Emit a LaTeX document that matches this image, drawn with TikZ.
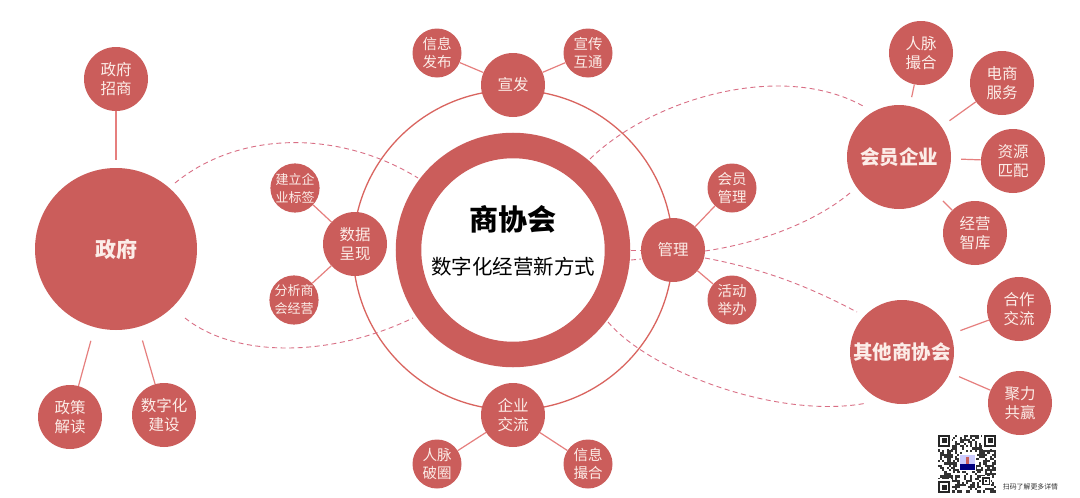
\documentclass[tikz,border=0pt]{standalone}
\usepackage{fontspec}
\setmainfont{Noto Sans CJK SC}
\usetikzlibrary{calc}
\definecolor{brick}{HTML}{CB5D5B}
\definecolor{ringline}{HTML}{D9645F}
\definecolor{spoke}{HTML}{E67F7E}
\definecolor{dashpink}{HTML}{D96F85}
\definecolor{labelcol}{HTML}{FCEDE8}
\tikzset{
  x=1pt,y=-1pt,
  ball/.style={circle,fill=brick,inner sep=0pt,align=center,text=labelcol},
  leafball/.style={ball,minimum size=49pt,font=\fontsize{14.5}{18}\selectfont},
  tinyball/.style={ball,minimum size=49pt,font=\fontsize{13}{18}\selectfont},
  midball/.style={ball,minimum size=64pt,font=\fontsize{15.5}{18.5}\selectfont},
  bigball/.style={ball,minimum size=104pt,font=\fontsize{19.5}{24}\selectfont\bfseries},
  spokeline/.style={draw=spoke,line width=1.2pt},
  dashline/.style={draw=dashpink,line width=0.9pt,dash pattern=on 5pt off 3.5pt},
  qrdot/.style={fill=black!80,draw=none},
}
\begin{document}
\begin{tikzpicture}
\useasboundingbox (0,0) rectangle (1080,498);
\fill[white] (0,0) rectangle (1080,498);
% central ring and orbit
\coordinate (mid) at (513,250);
\draw[ringline,line width=1.3pt] (mid) circle[radius=160pt];
\node[circle,draw=brick,line width=25.5pt,fill=white,minimum size=209pt,inner sep=0pt] (core) at (mid) {};
\node[font=\fontsize{29}{30}\selectfont\bfseries,text=black] (coretitle) at (513,219) {商协会};
\node[font=\fontsize{20.5}{22}\selectfont,text=black] (coresub) at (513,267) {数字化经营新方式};
% government
\node[ball,minimum size=162pt,font=\fontsize{21}{24}\selectfont\bfseries] (gov) at (116,249) {政府};
\node[midball] (govA) at (116,79) {政府\\招商};
\node[midball] (govB) at (70,417) {政策\\解读};
\node[midball] (govC) at (164,415) {数字化\\建设};
% orbit nodes
\node[midball] (top) at (513,85) {宣发};
\node[leafball] (topA) at (437,53) {信息\\发布};
\node[leafball] (topB) at (588,53) {宣传\\互通};
\node[midball] (left) at (355,244) {数据\\呈现};
\node[tinyball] (leftA) at (295,188) {建立企\\业标签};
\node[tinyball] (leftB) at (294,300) {分析商\\会经营};
\node[midball] (right) at (673,250) {管理};
\node[leafball] (rightA) at (732,188) {会员\\管理};
\node[leafball] (rightB) at (732,300) {活动\\举办};
\node[midball] (bot) at (513,415) {企业\\交流};
\node[leafball] (botA) at (437,464) {人脉\\破圈};
\node[leafball] (botB) at (588,464) {信息\\撮合};
% members
\node[bigball] (mem) at (899,157) {会员企业};
\node[midball] (memA) at (921,53) {人脉\\撮合};
\node[midball] (memB) at (1002,83) {电商\\服务};
\node[midball] (memC) at (1013,161) {资源\\匹配};
\node[midball] (memD) at (975,233) {经营\\智库};
% other chambers
\node[bigball] (oth) at (902,352) {其他商协会};
\node[midball] (othA) at (1019,309) {合作\\交流};
\node[midball] (othB) at (1020,403) {聚力\\共赢};
% solid connectors
\draw[spokeline] (top) -- (topA);
\draw[spokeline] (top) -- (topB);
\draw[spokeline] (left) -- (leftA);
\draw[spokeline] (left) -- (leftB);
\draw[spokeline] (right) -- (rightA);
\draw[spokeline] (right) -- (rightB);
\draw[spokeline] (bot) -- (botA);
\draw[spokeline] (bot) -- (botB);
\draw[spokeline,shorten <=8pt] (gov) -- (govA);
\draw[spokeline,shorten <=14pt] (gov) -- (govB);
\draw[spokeline,shorten <=14pt] (gov) -- (govC);
\draw[spokeline,shorten <=9pt] (mem) -- (memA);
\draw[spokeline,shorten <=10pt] (mem) -- (memB);
\draw[spokeline,shorten <=10pt] (mem) -- (memC);
\draw[spokeline,shorten <=10pt] (mem) -- (memD);
\draw[spokeline,shorten <=10pt] (oth) -- (othA);
\draw[spokeline,shorten <=10pt] (oth) -- (othB);
% dashed connectors
\coordinate (d1) at (175,183); \coordinate (d2) at (418,178);
\coordinate (d3) at (185,318); \coordinate (d4) at (413,318);
\coordinate (d5) at (590,159); \coordinate (d6) at (863,106);
\coordinate (d7) at (705,251); \coordinate (d8) at (850,193);
\coordinate (d9) at (705,258); \coordinate (d10) at (857,312);
\coordinate (d11) at (608,322); \coordinate (d12) at (867,403);
\coordinate (d13) at (631,250); \coordinate (d14) at (641,250);
\coordinate (d15) at (631,260); \coordinate (d16) at (641,259);
\draw[dashline] (d1) .. controls (240,130) and (340,130) .. (d2);
\draw[dashline] (d3) .. controls (235,358) and (330,358) .. (d4);
\draw[dashline] (d5) .. controls (650,100) and (780,60) .. (d6);
\draw[dashline] (d7) .. controls (760,243) and (815,222) .. (d8);
\draw[dashline] (d9) .. controls (770,270) and (815,290) .. (d10);
\draw[dashline] (d11) .. controls (650,372) and (780,420) .. (d12);
\draw[dashline] (d13) -- (d14);
\draw[dashline] (d15) -- (d16);
% QR code
\pgfmathsetseed{4217}
\foreach \i in {0,...,26}{
  \foreach \j in {0,...,26}{
    \pgfmathsetmacro{\rr}{rnd}
    \pgfmathparse{\rr<0.5 ? 1 : 0}
    \ifnum\pgfmathresult=1
      \fill[qrdot] ({938+\i*2.15},{434.5+\j*2.15}) rectangle ++(2.15,2.15);
    \fi
  }
}
\foreach \qx/\qy in {938/434.5,984/434.5,938/481}{
  \fill[white] ({\qx-2},{\qy-2}) rectangle ++(16,16);
  \fill[black!85] (\qx,\qy) rectangle ++(12,12);
  \fill[white] ({\qx+2},{\qy+2}) rectangle ++(8,8);
  \fill[black!85] ({\qx+3.5},{\qy+3.5}) rectangle ++(5,5);
}
\fill[white] (981,476) rectangle ++(10,10);
\fill[black!85] (982,477) rectangle ++(8,8);
\fill[white] (983.5,478.5) rectangle ++(5,5);
\fill[black!85] (985,480) rectangle ++(2,2);
\fill[white] (959,454) rectangle ++(17,17);
\fill[blue!20] (960,455) rectangle ++(15,15);
\fill[blue!50!black] (960,464) rectangle ++(15,6);
\fill[brick] (966,457) rectangle ++(3,7);
\node[font=\fontsize{6.9}{8}\selectfont,text=black!80,inner sep=0pt] (qrtext) at (1030.5,486.5) {扫码了解更多详情};
\end{tikzpicture}
\end{document}
